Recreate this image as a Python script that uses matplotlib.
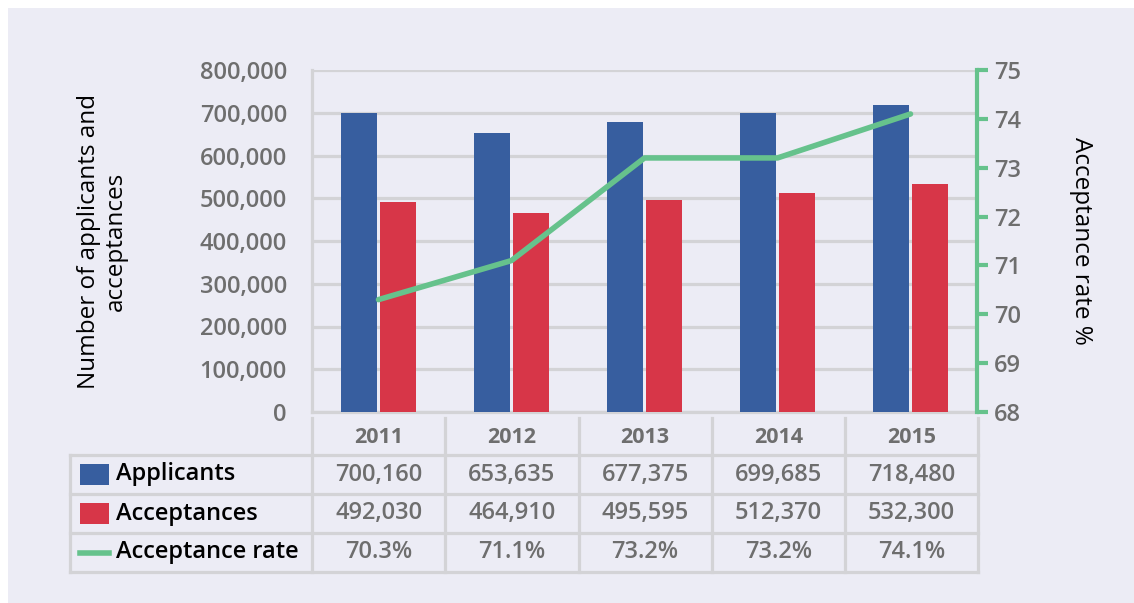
import matplotlib
matplotlib.use("Agg")
import matplotlib.pyplot as plt
from matplotlib.patches import Rectangle

years = ["2011", "2012", "2013", "2014", "2015"]
applicants = [700160, 653635, 677375, 699685, 718480]
acceptances = [492030, 464910, 495595, 512370, 532300]
rate = [70.3, 71.1, 73.2, 73.2, 74.1]
series_names = ["Applicants", "Acceptances", "Acceptance rate"]
left_ticks = [0, 100000, 200000, 300000, 400000, 500000, 600000, 700000, 800000]
right_ticks = [68, 69, 70, 71, 72, 73, 74, 75]

BLUE = "#375e9f"
RED = "#d73648"
GREEN = "#66c28c"
BG = "#ececf5"
GRID = "#d3d3d6"
TXT = "#6e6e6e"
FONT = ["Open Sans", "DejaVu Sans"]

W, H = 1134, 603
fig = plt.figure(figsize=(W / 100, H / 100), dpi=100)
fig.patch.set_facecolor("white")
fig.add_artist(Rectangle((8 / W, 0), 1 - 8 / W, 1 - 8 / H, transform=fig.transFigure,
                         facecolor=BG, edgecolor="none", zorder=-10))

def px(x0, y0, x1, y1):
    return [x0 / W, 1 - y1 / H, (x1 - x0) / W, (y1 - y0) / H]

ax = fig.add_axes(px(312, 70, 977, 412))
ax.set_facecolor("none")
n = len(years)
xs = list(range(n))
bw = 0.27
gap = 0.03
ax.bar([x - bw / 2 - gap / 2 for x in xs], applicants, width=bw, color=BLUE, zorder=3)
ax.bar([x + bw / 2 + gap / 2 for x in xs], acceptances, width=bw, color=RED, zorder=3)
ax.set_xlim(-0.5, n - 0.5)
ax.set_ylim(0, 800000)
ax.set_yticks(left_ticks)
ax.set_yticklabels([f"{v:,}" for v in left_ticks], fontfamily=FONT, fontsize=17,
                   fontweight="semibold", color=TXT)
ax.tick_params(axis="y", length=0, pad=18)
ax.set_xticks([])
ax.grid(axis="y", color=GRID, linewidth=2.3, zorder=0)
for s in ["top", "right"]:
    ax.spines[s].set_visible(False)
ax.spines["left"].set_color(GRID)
ax.spines["left"].set_linewidth(2.3)
ax.spines["bottom"].set_color(GRID)
ax.spines["bottom"].set_linewidth(2.3)
ax.set_ylabel("Number of applicants and\nacceptances", fontfamily=FONT, fontsize=17.5,
              color="black", labelpad=52, linespacing=1.15)

ax2 = ax.twinx()
ax2.plot(xs, rate, color=GREEN, linewidth=4, zorder=5, solid_capstyle="round")
ax2.set_ylim(68, 75)
ax2.set_yticks(right_ticks)
ax2.set_yticklabels([str(v) for v in right_ticks], fontfamily=FONT, fontsize=17,
                    fontweight="semibold", color=TXT)
ax2.tick_params(axis="y", length=8, width=3, color=GREEN, pad=4)
for s in ["top", "left", "bottom"]:
    ax2.spines[s].set_visible(False)
ax2.spines["right"].set_color(GREEN)
ax2.spines["right"].set_linewidth(3)
ax2.set_ylabel("Acceptance rate %", fontfamily=FONT, fontsize=17.5, color="black",
               rotation=270, labelpad=52)

# data table
tx0, tx1 = 70, 978
ty0, ty1 = 416, 572
lab_w = (312 - 70) / 133.0
tab = fig.add_axes(px(tx0, ty0, tx1, ty1))
tab.set_xlim(-0.5 - lab_w, n - 0.5)
tab.set_ylim(4, 0)
tab.axis("off")
tab.set_facecolor("none")
lw = 2.3
xl = -0.5 - lab_w
for yy in [1, 2, 3, 4]:
    tab.plot([xl, n - 0.5], [yy, yy], color=GRID, lw=lw, clip_on=False)
tab.plot([xl, xl], [1, 4], color=GRID, lw=lw, clip_on=False)
for i in range(n + 1):
    tab.plot([i - 0.5, i - 0.5], [0.05, 4], color=GRID, lw=lw, clip_on=False)

for i, y in enumerate(years):
    tab.text(i, 0.55, y, ha="center", va="center", fontfamily=FONT, fontsize=15.5,
             fontweight="bold", color=TXT)
rows = [[f"{v:,}" for v in applicants], [f"{v:,}" for v in acceptances],
        [f"{v:.1f}%" for v in rate]]
for r, vals in enumerate(rows):
    for i, v in enumerate(vals):
        tab.text(i, r + 1.5, v, ha="center", va="center", fontfamily=FONT,
                 fontsize=17, fontweight="semibold", color=TXT)

hx0 = xl + 10 / 133.0
hx1 = xl + 39 / 133.0
tab.add_patch(Rectangle((hx0, 1.22), hx1 - hx0, 0.56, facecolor=BLUE, edgecolor="none"))
tab.add_patch(Rectangle((hx0, 2.22), hx1 - hx0, 0.56, facecolor=RED, edgecolor="none"))
tab.plot([hx0, hx1], [3.5, 3.5], color=GREEN, lw=4)
for r, name in enumerate(series_names):
    tab.text(xl + 46 / 133.0, r + 1.5, name, ha="left", va="center", fontfamily=FONT,
             fontsize=17, fontweight="semibold", color="black")

fig.savefig("out.png", dpi=100, facecolor=fig.get_facecolor())
